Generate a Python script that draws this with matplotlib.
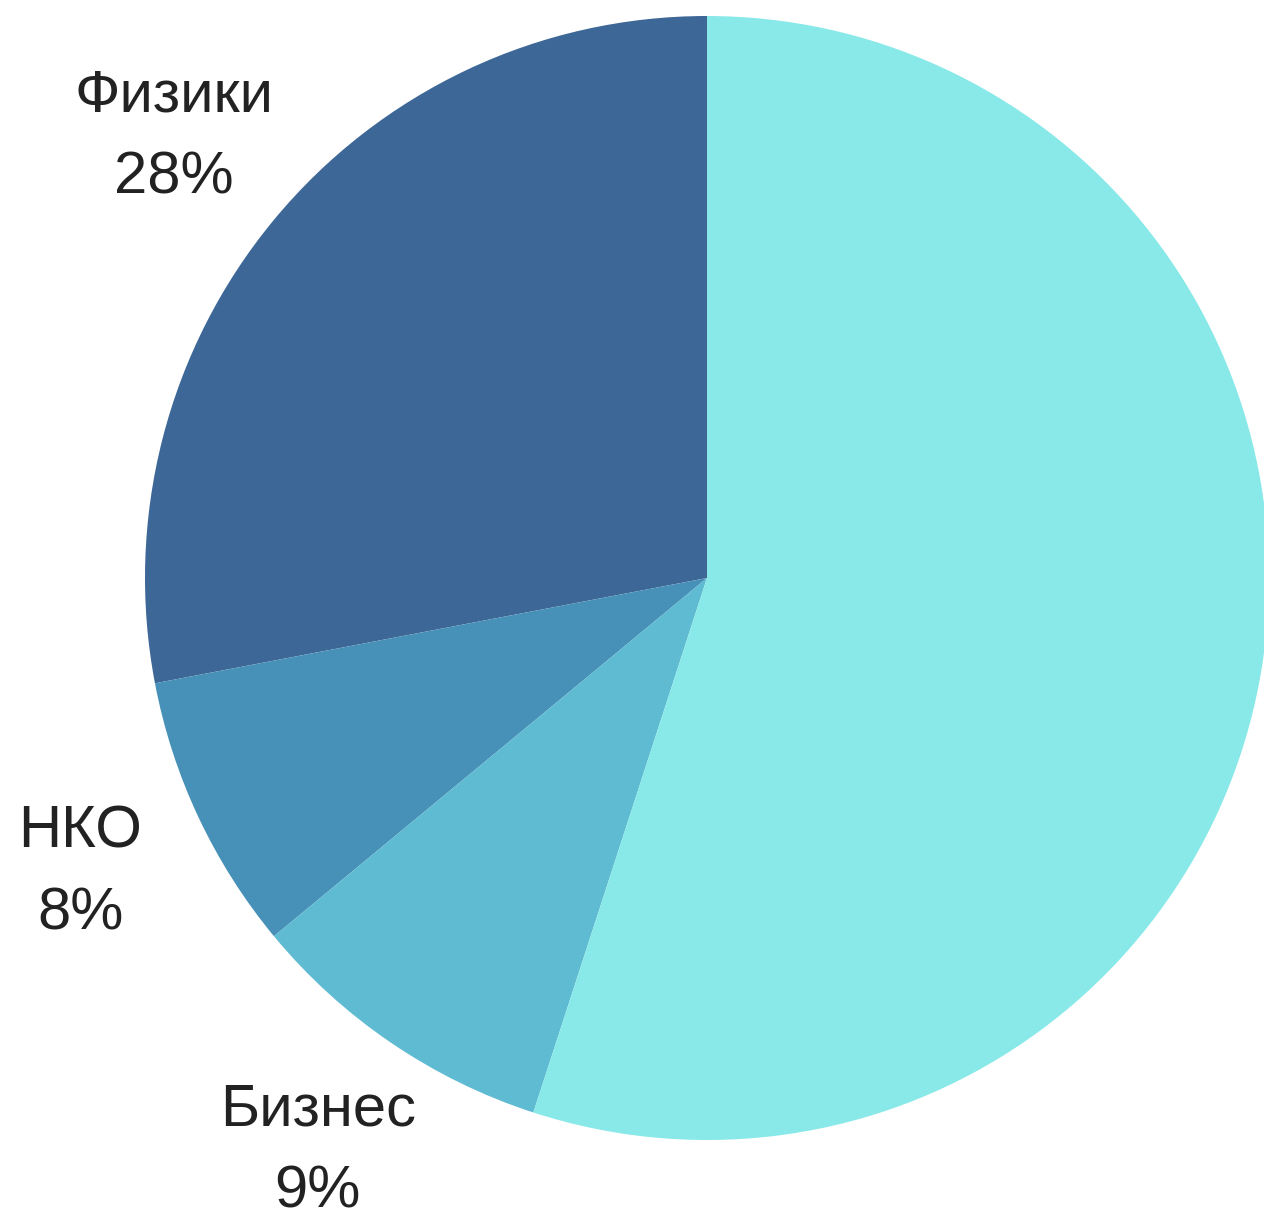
import matplotlib
matplotlib.use("Agg")
import matplotlib.pyplot as plt

# shares, counter-clockwise from 12 o'clock
names = ["Физики", "НКО", "Бизнес", ""]
shares = [28, 8, 9, 55]
colors = ["#3d6796", "#4791b8", "#5ebbd2", "#89e9e8"]

W, H = 1264, 1214
CX, CY, R = 707, 578, 562

plt.rcParams["font.family"] = ["Liberation Sans", "DejaVu Sans"]

fig = plt.figure(figsize=(W / 100, H / 100), dpi=100)
ax = fig.add_axes([0, 0, 1, 1])

labels = ["%s\n%d%%" % (n, s) if n else "" for n, s in zip(names, shares)]
wedges, texts = ax.pie(shares, labels=labels, colors=colors, startangle=90,
                       counterclock=True, center=(CX, H - CY), radius=R,
                       labeldistance=1.232, frame=True,
                       wedgeprops=dict(linewidth=0))
for t in texts:
    t.set_ha("center")
    t.set_va("center")
    t.set_fontsize(43)
    t.set_color("#222222")
    t.set_linespacing(1.63)

ax.set_xlim(0, W)
ax.set_ylim(0, H)
ax.set_aspect("auto")
ax.axis("off")

fig.savefig("out.png", dpi=100, facecolor="white")
